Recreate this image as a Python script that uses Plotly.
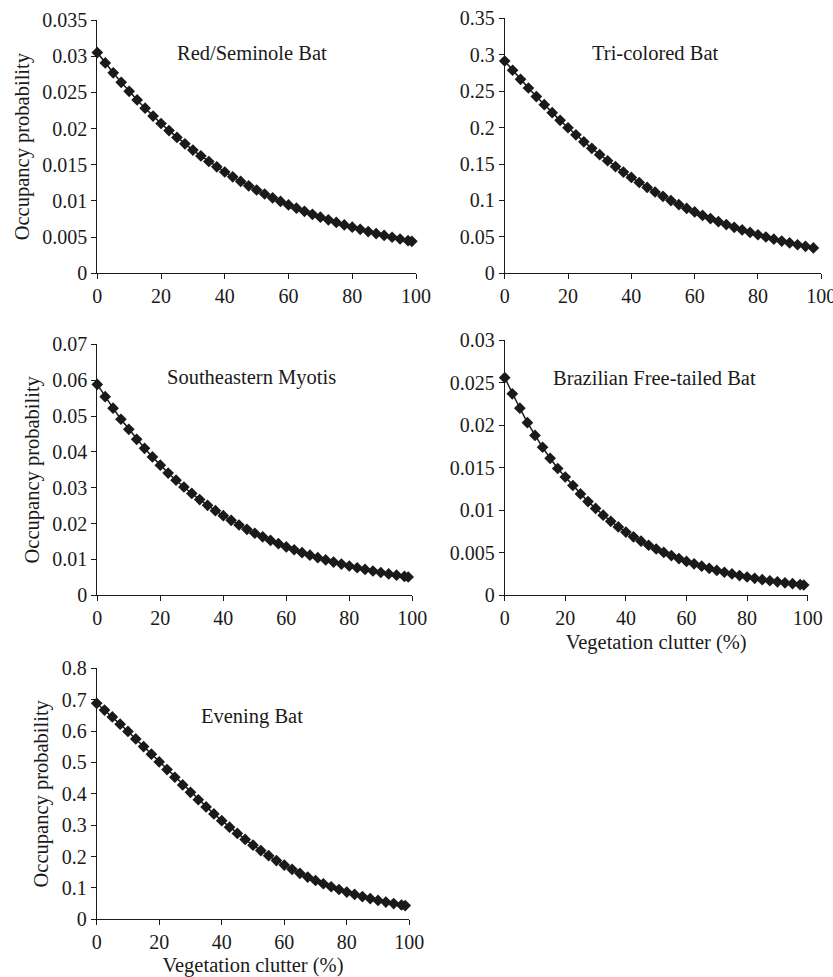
import plotly.graph_objects as go

# ---------------- data ----------------
x_steps = [0, 2.5, 5, 7.5, 10, 12.5, 15, 17.5, 20, 22.5, 25, 27.5, 30, 32.5, 35, 37.5,
           40, 42.5, 45, 47.5, 50, 52.5, 55, 57.5, 60, 62.5, 65, 67.5, 70, 72.5, 75, 77.5,
           80, 82.5, 85, 87.5, 90, 92.5, 95, 97.5]
x_long = x_steps + [98.7]

red_seminole = [0.0305, 0.02907, 0.02770, 0.02639, 0.02514, 0.02395, 0.02282, 0.02173,
                0.02070, 0.01972, 0.01878, 0.01789, 0.01703, 0.01622, 0.01545, 0.01471,
                0.01400, 0.01333, 0.01270, 0.01209, 0.01151, 0.01096, 0.01043, 0.00993,
                0.00945, 0.00900, 0.00857, 0.00815, 0.00776, 0.00739, 0.00703, 0.00669,
                0.00637, 0.00607, 0.00577, 0.00549, 0.00523, 0.00498, 0.00474, 0.00451,
                0.00442]

tri_colored = [0.2914, 0.2787, 0.2663, 0.2543, 0.2426, 0.2314, 0.2205, 0.2099,
               0.1998, 0.1900, 0.1805, 0.1715, 0.1628, 0.1545, 0.1465, 0.1389,
               0.1316, 0.1246, 0.1179, 0.1116, 0.1056, 0.0998, 0.0943, 0.0891,
               0.0842, 0.0795, 0.0751, 0.0708, 0.0669, 0.0631, 0.0595, 0.0561,
               0.0529, 0.0498, 0.0469, 0.0442, 0.0417, 0.0392, 0.0370, 0.0348]

se_myotis = [0.0588, 0.0554, 0.0522, 0.0491, 0.0463, 0.0435, 0.0410, 0.0386,
             0.0363, 0.0341, 0.0321, 0.0302, 0.0284, 0.0267, 0.0251, 0.0236,
             0.0222, 0.0209, 0.0196, 0.0184, 0.0173, 0.0163, 0.0153, 0.0144,
             0.0135, 0.0127, 0.0119, 0.0112, 0.0105, 0.00987, 0.00927, 0.00870,
             0.00817, 0.00768, 0.00721, 0.00677, 0.00636, 0.00597, 0.00561, 0.00526,
             0.00511]

brazilian = [0.0256, 0.0237, 0.0220, 0.0203, 0.0188, 0.0174, 0.0161, 0.0149,
             0.0139, 0.0129, 0.0119, 0.0110, 0.0102, 0.00940, 0.00868, 0.00802,
             0.00741, 0.00685, 0.00634, 0.00586, 0.00542, 0.00501, 0.00464, 0.00429,
             0.00396, 0.00367, 0.00339, 0.00314, 0.00290, 0.00268, 0.00248, 0.00229,
             0.00212, 0.00196, 0.00181, 0.00168, 0.00155, 0.00143, 0.00133, 0.00123,
             0.00118]

evening = [0.6885, 0.6670, 0.6449, 0.6220, 0.5987, 0.5748, 0.5506, 0.5262,
           0.5017, 0.4771, 0.4527, 0.4284, 0.4046, 0.3811, 0.3582, 0.3360,
           0.3144, 0.2936, 0.2737, 0.2546, 0.2364, 0.2191, 0.2027, 0.1873,
           0.1728, 0.1592, 0.1465, 0.1346, 0.1236, 0.1133, 0.1038, 0.0950,
           0.0869, 0.0794, 0.0725, 0.0662, 0.0603, 0.0550, 0.0501, 0.0456,
           0.0436]

species = ["Red/Seminole Bat", "Tri-colored Bat", "Southeastern Myotis",
           "Brazilian Free-tailed Bat", "Evening Bat"]

x_ticks = [0, 20, 40, 60, 80, 100]
x_ticktext = ["0", "20", "40", "60", "80", "100"]

yt1 = [0, 0.005, 0.01, 0.015, 0.02, 0.025, 0.03, 0.035]
yt1_text = ["0", "0.005", "0.01", "0.015", "0.02", "0.025", "0.03", "0.035"]
yt2 = [0, 0.05, 0.1, 0.15, 0.2, 0.25, 0.3, 0.35]
yt2_text = ["0", "0.05", "0.1", "0.15", "0.2", "0.25", "0.3", "0.35"]
yt3 = [0, 0.01, 0.02, 0.03, 0.04, 0.05, 0.06, 0.07]
yt3_text = ["0", "0.01", "0.02", "0.03", "0.04", "0.05", "0.06", "0.07"]
yt4 = [0, 0.005, 0.01, 0.015, 0.02, 0.025, 0.03]
yt4_text = ["0", "0.005", "0.01", "0.015", "0.02", "0.025", "0.03"]
yt5 = [0, 0.1, 0.2, 0.3, 0.4, 0.5, 0.6, 0.7, 0.8]
yt5_text = ["0", "0.1", "0.2", "0.3", "0.4", "0.5", "0.6", "0.7", "0.8"]

y_title = "Occupancy probability"
x_title = "Vegetation clutter (%)"

# ---------------- layout helpers ----------------
W, H = 833, 977
FONT = "Liberation Serif"
TXT = "#1a1a1a"
TICK_SIZE = 20
TITLE_SIZE = 20.5


def xd(a, b):
    return [a / W, b / W]


def yd(top, bottom):
    return [1 - bottom / H, 1 - top / H]


panels = [
    dict(x=x_long, y=red_seminole, yt=yt1, ytt=yt1_text, ymax=0.035,
         xd=(97.3, 416.0), yd=(20.0, 273.3), lab=(252, 53), yt_show=True, xt_show=False),
    dict(x=x_steps, y=tri_colored, yt=yt2, ytt=yt2_text, ymax=0.35,
         xd=(504.7, 821.3), yd=(18.3, 273.3), lab=(655, 53), yt_show=False, xt_show=False),
    dict(x=x_long, y=se_myotis, yt=yt3, ytt=yt3_text, ymax=0.07,
         xd=(97.3, 412.3), yd=(344.3, 595.3), lab=(252, 378), yt_show=True, xt_show=False),
    dict(x=x_long, y=brazilian, yt=yt4, ytt=yt4_text, ymax=0.03,
         xd=(504.7, 807.7), yd=(340.3, 595.0), lab=(654, 378), yt_show=False, xt_show=True),
    dict(x=x_long, y=evening, yt=yt5, ytt=yt5_text, ymax=0.8,
         xd=(96.7, 409.3), yd=(668.3, 919.3), lab=(252, 716), yt_show=True, xt_show=True),
]

fig = go.Figure()
annotations = []
layout_axes = {}

for i, p in enumerate(panels, start=1):
    xa = "x" if i == 1 else f"x{i}"
    ya = "y" if i == 1 else f"y{i}"
    fig.add_trace(go.Scatter(
        x=p["x"], y=p["y"], xaxis=xa, yaxis=ya, mode="lines+markers",
        line=dict(color="#1a1a1a", width=1.5),
        marker=dict(symbol="diamond", size=9, color="#1a1a1a"),
        showlegend=False, cliponaxis=False,
    ))
    xkey = "xaxis" if i == 1 else f"xaxis{i}"
    ykey = "yaxis" if i == 1 else f"yaxis{i}"
    layout_axes[xkey] = dict(
        domain=xd(*p["xd"]), anchor=ya, range=[0, 100], automargin=False,
        tickmode="array", tickvals=x_ticks, ticktext=x_ticktext,
        ticklabeloverflow="allow",
        showline=True, linecolor="#1a1a1a", linewidth=1,
        ticks="outside", ticklen=5, tickcolor="#1a1a1a", tickwidth=1,
        showgrid=False, zeroline=False,
        tickfont=dict(family=FONT, size=TICK_SIZE, color=TXT),
        fixedrange=True,
    )
    if p["xt_show"]:
        layout_axes[xkey]["title"] = dict(text=x_title, standoff=6,
                                          font=dict(family=FONT, size=TITLE_SIZE, color=TXT))
    layout_axes[ykey] = dict(
        domain=yd(*p["yd"]), anchor=xa, range=[0, p["ymax"]], automargin=False,
        tickmode="array", tickvals=p["yt"], ticktext=p["ytt"],
        ticklabeloverflow="allow",
        showline=True, linecolor="#1a1a1a", linewidth=1,
        ticks="outside", ticklen=5, tickcolor="#1a1a1a", tickwidth=1,
        showgrid=False, zeroline=False,
        tickfont=dict(family=FONT, size=TICK_SIZE, color=TXT),
        fixedrange=True,
    )
    if p["yt_show"]:
        layout_axes[ykey]["title"] = dict(text=y_title, standoff=7,
                                          font=dict(family=FONT, size=TITLE_SIZE, color=TXT))
    lx, ly = p["lab"]
    annotations.append(dict(
        text=species[i - 1], x=lx / W, y=1 - ly / H, xref="paper", yref="paper",
        xanchor="center", yanchor="middle", showarrow=False,
        font=dict(family=FONT, size=TITLE_SIZE, color=TXT),
    ))

fig.update_layout(
    width=W, height=H,
    margin=dict(l=0, r=0, t=0, b=0, autoexpand=False),
    paper_bgcolor="white", plot_bgcolor="white",
    annotations=annotations,
    **layout_axes,
)

fig.write_html(
    "out.html",
    config={"displayModeBar": False},
    post_script="document.body.style.margin='0';document.body.style.overflow='hidden';",
)
